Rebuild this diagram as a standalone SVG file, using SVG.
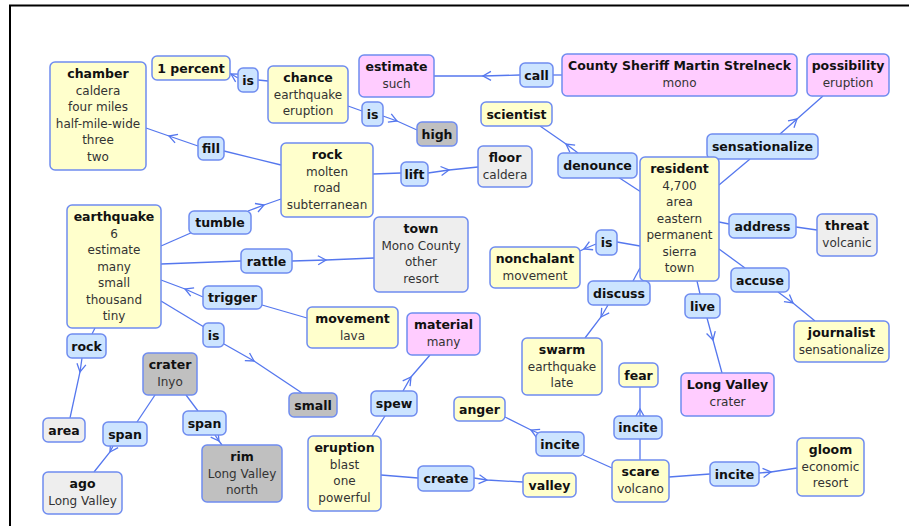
<svg xmlns="http://www.w3.org/2000/svg" width="909" height="526" viewBox="0 0 909 526">
  <style>
    .n rect { stroke: #6f8cf0; stroke-width: 1.5; }
    .y rect { fill: #ffffcc; }
    .b rect { fill: #cce4ff; }
    .p rect { fill: #ffccff; }
    .lg rect { fill: #eeeeee; }
    .g rect { fill: #c0c0c0; }
    text { font-family: "DejaVu Sans", Verdana, sans-serif; text-anchor: middle; }
    .t { font-weight: bold; font-size: 12.5px; fill: #111; }
    .s { font-size: 12px; fill: #333; }
    #links path { fill: none; stroke: #5577ee; stroke-width: 1.3; marker-mid: url(#chev); }
  </style>
  <defs>
    <marker id="chev" markerUnits="userSpaceOnUse" markerWidth="20" markerHeight="20" viewBox="-10 -10 20 20" refX="0" refY="0" orient="auto">
      <path d="M-8,-4.5 L0,0 L-8,4.5" fill="none" stroke="#5577ee" stroke-width="1.3"/>
    </marker>
  </defs>
  <rect width="909" height="526" fill="#fff"/>
  <!-- frame -->
  <path d="M909,5.5 H10 V526" fill="none" stroke="#000" stroke-width="2"/>

  <g id="links">
    <path d="M268,81 L258,80"/>
    <path d="M238,78 L231,74 L230,73.4"/>
    <path d="M348,106 L362,111"/>
    <path d="M383,116 L397,121 L417,130"/>
    <path d="M562,75 L553,75"/>
    <path d="M520,75 L483,76 L434,76"/>
    <path d="M641,192 L618,177"/>
    <path d="M578,153 L566,144 L540,126"/>
    <path d="M719,185 L750,159"/>
    <path d="M780,134 L797,119 L823,96"/>
    <path d="M719,222 L729,224"/>
    <path d="M796,227 L817,230"/>
    <path d="M719,249 L745,268"/>
    <path d="M778,292 L793,303 L815,321"/>
    <path d="M697,281 L700,294"/>
    <path d="M707,318 L713,340 L722,373"/>
    <path d="M640,246 L617,242"/>
    <path d="M596,244 L584,249 L580,251"/>
    <path d="M640,268 L633,281"/>
    <path d="M608,305 L601,317 L585,338"/>
    <path d="M373,174 L401,173"/>
    <path d="M428,173 L449,170 L478,167"/>
    <path d="M281,165 L224,151"/>
    <path d="M198,146 L169,136 L146,128"/>
    <path d="M161,246 L193,232"/>
    <path d="M248,211 L264,205 L281,199"/>
    <path d="M161,264 L241,261"/>
    <path d="M292,261 L326,260 L374,258"/>
    <path d="M307,318 L262,305"/>
    <path d="M203,297 L185,289 L161,280"/>
    <path d="M161,301 L204,327"/>
    <path d="M224,344 L254,361 L302,393"/>
    <path d="M95,328 L92,334"/>
    <path d="M82,358 L80,372 L70,418"/>
    <path d="M155,395 L137,422"/>
    <path d="M113,446 L110,452 L94,472"/>
    <path d="M186,395 L198,411"/>
    <path d="M215,435 L219,441 L222,445"/>
    <path d="M372,436 L385,416"/>
    <path d="M403,391 L411,377 L430,355"/>
    <path d="M381,475 L418,478"/>
    <path d="M474,478 L487,480 L523,482"/>
    <path d="M612,468 L583,455"/>
    <path d="M538,433 L531,430 L505,417"/>
    <path d="M640,460 L640,439"/>
    <path d="M640,416 L640,409 L640,387"/>
    <path d="M669,477 L710,474"/>
    <path d="M759,473 L771,472 L797,468"/>
  </g>

  <g id="chamber" class="n y"><rect x="50" y="62" width="96" height="108" rx="5"/>
    <text x="98" y="78" class="t">chamber</text><text x="98" y="94.5" class="s">caldera</text><text x="98" y="111" class="s">four miles</text><text x="98" y="127.5" class="s">half-mile-wide</text><text x="98" y="144" class="s">three</text><text x="98" y="160.5" class="s">two</text></g>
  <g id="one-percent" class="n y"><rect x="152" y="56" width="78" height="24" rx="5"/><text x="191" y="72.5" class="t">1 percent</text></g>
  <g id="is-percent" class="n b"><rect x="238" y="68" width="20" height="24" rx="5"/><text x="248" y="84.5" class="t">is</text></g>
  <g id="chance" class="n y"><rect x="268" y="66" width="80" height="57" rx="5"/>
    <text x="308" y="82" class="t">chance</text><text x="308" y="98.5" class="s">earthquake</text><text x="308" y="115" class="s">eruption</text></g>
  <g id="is-high" class="n b"><rect x="362" y="102" width="21" height="24" rx="5"/><text x="372.5" y="118.5" class="t">is</text></g>
  <g id="high" class="n g"><rect x="417" y="122" width="40" height="24" rx="5"/><text x="437" y="138.5" class="t">high</text></g>
  <g id="estimate" class="n p"><rect x="359" y="55" width="75" height="42" rx="5"/>
    <text x="396.5" y="71" class="t">estimate</text><text x="396.5" y="87.5" class="s">such</text></g>
  <g id="call" class="n b"><rect x="520" y="63" width="33" height="24" rx="5"/><text x="536.5" y="79.5" class="t">call</text></g>
  <g id="sheriff" class="n p"><rect x="562" y="54" width="235" height="42" rx="5"/>
    <text x="679.5" y="70" class="t">County Sheriff Martin Strelneck</text><text x="679.5" y="86.5" class="s">mono</text></g>
  <g id="possibility" class="n p"><rect x="807" y="54" width="82" height="42" rx="5"/>
    <text x="848" y="70" class="t">possibility</text><text x="848" y="86.5" class="s">eruption</text></g>
  <g id="scientist" class="n y"><rect x="481" y="102" width="71" height="24" rx="5"/><text x="516.5" y="118.5" class="t">scientist</text></g>
  <g id="rock" class="n y"><rect x="281" y="143" width="92" height="74" rx="5"/>
    <text x="327" y="159" class="t">rock</text><text x="327" y="175.5" class="s">molten</text><text x="327" y="192" class="s">road</text><text x="327" y="208.5" class="s">subterranean</text></g>
  <g id="lift" class="n b"><rect x="401" y="162" width="27" height="24" rx="5"/><text x="414.5" y="178.5" class="t">lift</text></g>
  <g id="floor" class="n lg"><rect x="478" y="146" width="54" height="41" rx="5"/>
    <text x="505" y="162" class="t">floor</text><text x="505" y="178.5" class="s">caldera</text></g>
  <g id="denounce" class="n b"><rect x="558" y="153" width="79" height="25" rx="5"/><text x="597.5" y="170" class="t">denounce</text></g>
  <g id="sensationalize" class="n b"><rect x="707" y="134" width="111" height="25" rx="5"/><text x="762.5" y="151" class="t">sensationalize</text></g>
  <g id="resident" class="n y"><rect x="640" y="157" width="79" height="124" rx="5"/>
    <text x="679.5" y="173" class="t">resident</text><text x="679.5" y="189.5" class="s">4,700</text><text x="679.5" y="206" class="s">area</text><text x="679.5" y="222.5" class="s">eastern</text><text x="679.5" y="239" class="s">permanent</text><text x="679.5" y="255.5" class="s">sierra</text><text x="679.5" y="272" class="s">town</text></g>
  <g id="address" class="n b"><rect x="729" y="214" width="67" height="24" rx="5"/><text x="762.5" y="230.5" class="t">address</text></g>
  <g id="threat" class="n lg"><rect x="817" y="214" width="60" height="42" rx="5"/>
    <text x="847" y="230" class="t">threat</text><text x="847" y="246.5" class="s">volcanic</text></g>
  <g id="accuse" class="n b"><rect x="731" y="268" width="58" height="24" rx="5"/><text x="760" y="284.5" class="t">accuse</text></g>
  <g id="journalist" class="n y"><rect x="794" y="321" width="95" height="41" rx="5"/>
    <text x="841.5" y="337" class="t">journalist</text><text x="841.5" y="353.5" class="s">sensationalize</text></g>
  <g id="live" class="n b"><rect x="685" y="294" width="35" height="24" rx="5"/><text x="702.5" y="310.5" class="t">live</text></g>
  <g id="long-valley" class="n p"><rect x="681" y="373" width="93" height="43" rx="5"/>
    <text x="727.5" y="389" class="t">Long Valley</text><text x="727.5" y="405.5" class="s">crater</text></g>
  <g id="is-nonchalant" class="n b"><rect x="596" y="230" width="21" height="25" rx="5"/><text x="606.5" y="247" class="t">is</text></g>
  <g id="nonchalant" class="n y"><rect x="490" y="247" width="90" height="41" rx="5"/>
    <text x="535" y="263" class="t">nonchalant</text><text x="535" y="279.5" class="s">movement</text></g>
  <g id="discuss" class="n b"><rect x="588" y="281" width="62" height="24" rx="5"/><text x="619" y="297.5" class="t">discuss</text></g>
  <g id="swarm" class="n y"><rect x="522" y="338" width="80" height="57" rx="5"/>
    <text x="562" y="354" class="t">swarm</text><text x="562" y="370.5" class="s">earthquake</text><text x="562" y="387" class="s">late</text></g>
  <g id="town" class="n lg"><rect x="374" y="217" width="94" height="75" rx="5"/>
    <text x="421" y="233" class="t">town</text><text x="421" y="249.5" class="s">Mono County</text><text x="421" y="266" class="s">other</text><text x="421" y="282.5" class="s">resort</text></g>
  <g id="earthquake" class="n y"><rect x="67" y="205" width="94" height="123" rx="5"/>
    <text x="114" y="221" class="t">earthquake</text><text x="114" y="237.5" class="s">6</text><text x="114" y="254" class="s">estimate</text><text x="114" y="270.5" class="s">many</text><text x="114" y="287" class="s">small</text><text x="114" y="303.5" class="s">thousand</text><text x="114" y="320" class="s">tiny</text></g>
  <g id="tumble" class="n b"><rect x="189" y="211" width="62" height="23" rx="5"/><text x="220" y="227" class="t">tumble</text></g>
  <g id="rattle" class="n b"><rect x="241" y="249" width="51" height="24" rx="5"/><text x="266.5" y="265.5" class="t">rattle</text></g>
  <g id="trigger" class="n b"><rect x="203" y="286" width="59" height="23" rx="5"/><text x="232.5" y="302" class="t">trigger</text></g>
  <g id="is-small" class="n b"><rect x="203" y="323" width="21" height="24" rx="5"/><text x="213.5" y="339.5" class="t">is</text></g>
  <g id="movement" class="n y"><rect x="307" y="307" width="91" height="41" rx="5"/>
    <text x="352.5" y="323" class="t">movement</text><text x="352.5" y="339.5" class="s">lava</text></g>
  <g id="material" class="n p"><rect x="407" y="313" width="73" height="42" rx="5"/>
    <text x="443.5" y="329" class="t">material</text><text x="443.5" y="345.5" class="s">many</text></g>
  <g id="fill" class="n b"><rect x="198" y="137" width="26" height="23" rx="5"/><text x="211" y="153" class="t">fill</text></g>
  <g id="rock-link" class="n b"><rect x="67" y="334" width="39" height="24" rx="5"/><text x="86.5" y="350.5" class="t">rock</text></g>
  <g id="area" class="n lg"><rect x="43" y="418" width="42" height="24" rx="5"/><text x="64" y="434.5" class="t">area</text></g>
  <g id="crater" class="n g"><rect x="143" y="353" width="54" height="42" rx="5"/>
    <text x="170" y="369" class="t">crater</text><text x="170" y="385.5" class="s">Inyo</text></g>
  <g id="span-ago" class="n b"><rect x="103" y="422" width="44" height="24" rx="5"/><text x="125" y="438.5" class="t">span</text></g>
  <g id="span-rim" class="n b"><rect x="183" y="411" width="43" height="24" rx="5"/><text x="204.5" y="427.5" class="t">span</text></g>
  <g id="ago" class="n lg"><rect x="43" y="472" width="79" height="42" rx="5"/>
    <text x="82.5" y="488" class="t">ago</text><text x="82.5" y="504.5" class="s">Long Valley</text></g>
  <g id="rim" class="n g"><rect x="202" y="445" width="80" height="57" rx="5"/>
    <text x="242" y="461" class="t">rim</text><text x="242" y="477.5" class="s">Long Valley</text><text x="242" y="494" class="s">north</text></g>
  <g id="small" class="n g"><rect x="289" y="393" width="48" height="24" rx="5"/><text x="313" y="409.5" class="t">small</text></g>
  <g id="spew" class="n b"><rect x="371" y="391" width="46" height="25" rx="5"/><text x="394" y="408" class="t">spew</text></g>
  <g id="eruption" class="n y"><rect x="308" y="436" width="73" height="75" rx="5"/>
    <text x="344.5" y="452" class="t">eruption</text><text x="344.5" y="468.5" class="s">blast</text><text x="344.5" y="485" class="s">one</text><text x="344.5" y="501.5" class="s">powerful</text></g>
  <g id="create" class="n b"><rect x="418" y="466" width="56" height="25" rx="5"/><text x="446" y="483" class="t">create</text></g>
  <g id="valley" class="n y"><rect x="523" y="473" width="53" height="24" rx="5"/><text x="549.5" y="489.5" class="t">valley</text></g>
  <g id="anger" class="n y"><rect x="454" y="397" width="51" height="24" rx="5"/><text x="479.5" y="413.5" class="t">anger</text></g>
  <g id="incite-anger" class="n b"><rect x="536" y="432" width="48" height="24" rx="5"/><text x="560" y="448.5" class="t">incite</text></g>
  <g id="fear" class="n y"><rect x="619" y="363" width="39" height="24" rx="5"/><text x="638.5" y="379.5" class="t">fear</text></g>
  <g id="incite-fear" class="n b"><rect x="614" y="416" width="48" height="23" rx="5"/><text x="638" y="432" class="t">incite</text></g>
  <g id="scare" class="n y"><rect x="612" y="460" width="57" height="42" rx="5"/>
    <text x="640.5" y="476" class="t">scare</text><text x="640.5" y="492.5" class="s">volcano</text></g>
  <g id="incite-gloom" class="n b"><rect x="710" y="462" width="49" height="24" rx="5"/><text x="734.5" y="478.5" class="t">incite</text></g>
  <g id="gloom" class="n y"><rect x="797" y="438" width="67" height="58" rx="5"/>
    <text x="830.5" y="454" class="t">gloom</text><text x="830.5" y="470.5" class="s">economic</text><text x="830.5" y="487" class="s">resort</text></g>
</svg>
